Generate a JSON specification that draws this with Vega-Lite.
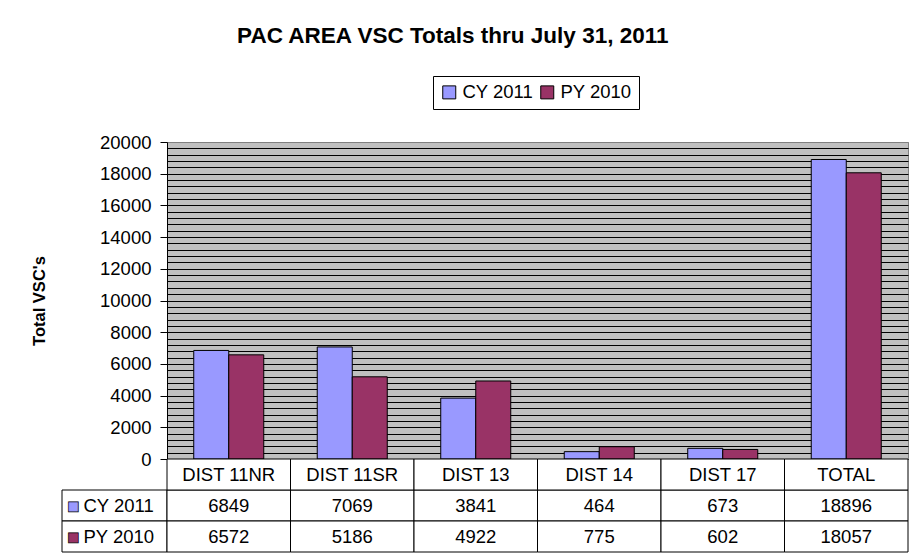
{
  "$schema": "https://vega.github.io/schema/vega-lite/v6.json",
  "padding": {"left": 31, "top": 24, "right": 0, "bottom": 0},
  "background": "white",
  "title": {"text": "PAC AREA VSC Totals thru July 31, 2011", "fontSize": 22.5, "fontWeight": "bold", "font": "Liberation Sans", "anchor": "middle", "color": "black", "offset": 28, "dx": -17},
  "config": {"view": {"stroke": null}, "font": "Liberation Sans"},
  "datasets": {
    "vsc": [
      {"cat": "DIST 11NR", "series": "CY 2011", "value": 6849},
      {"cat": "DIST 11NR", "series": "PY 2010", "value": 6572},
      {"cat": "DIST 11SR", "series": "CY 2011", "value": 7069},
      {"cat": "DIST 11SR", "series": "PY 2010", "value": 5186},
      {"cat": "DIST 13", "series": "CY 2011", "value": 3841},
      {"cat": "DIST 13", "series": "PY 2010", "value": 4922},
      {"cat": "DIST 14", "series": "CY 2011", "value": 464},
      {"cat": "DIST 14", "series": "PY 2010", "value": 775},
      {"cat": "DIST 17", "series": "CY 2011", "value": 673},
      {"cat": "DIST 17", "series": "PY 2010", "value": 602},
      {"cat": "TOTAL", "series": "CY 2011", "value": 18896},
      {"cat": "TOTAL", "series": "PY 2010", "value": 18057}
    ]
  },
  "columns": 2,
  "spacing": 0,
  "bounds": "flush",
  "align": "each",
  "resolve": {"legend": {"color": "independent"}},
  "concat": [
    {
      "width": 105, "height": 317,
      "data": {"values": [{}]},
      "mark": {"type": "text", "text": ""},
      "encoding": {}
    },
    {
      "width": 741, "height": 317,
      "data": {"name": "vsc"},
      "view": {"fill": "#C0C0C0", "stroke": "#808080"},
      "mark": {"type": "bar", "stroke": "black", "strokeWidth": 1},
      "encoding": {
        "x": {"field": "cat", "type": "nominal", "sort": null, "scale": {"paddingInner": 0.433, "paddingOuter": 0.2165}, "axis": null},
        "xOffset": {"field": "series", "type": "nominal", "sort": null},
        "y": {
          "field": "value", "type": "quantitative",
          "scale": {"domain": [0, 20000], "nice": false},
          "axis": {
            "values": [0,400,800,1200,1600,2000,2400,2800,3200,3600,4000,4400,4800,5200,5600,6000,6400,6800,7200,7600,8000,8400,8800,9200,9600,10000,10400,10800,11200,11600,12000,12400,12800,13200,13600,14000,14400,14800,15200,15600,16000,16400,16800,17200,17600,18000,18400,18800,19200,19600,20000],
            "format": "d",
            "labelExpr": "datum.value % 2000 === 0 ? datum.label : ''",
            "grid": true,
            "gridColor": {"condition": {"test": "datum.value === 20000", "value": "#808080"}, "value": "black"},
            "gridOpacity": 1,
            "gridWidth": 1,
            "tickOpacity": {"condition": {"test": "datum.value % 2000 === 0", "value": 1}, "value": 0},
            "tickSize": 7,
            "tickColor": "black",
            "domainColor": "black",
            "labelPadding": 9,
            "labelFontSize": 18.5,
            "labelFont": "Liberation Sans",
            "labelColor": "black",
            "labelOverlap": false,
            "labelFlush": false,
            "title": "Total VSC's",
            "titleFontSize": 16.5,
            "titleFontWeight": "bold",
            "titleFont": "Liberation Sans",
            "titleColor": "black",
            "titlePadding": 52
          }
        },
        "color": {
          "field": "series", "type": "nominal",
          "scale": {"domain": ["CY 2011", "PY 2010"], "range": ["#9999FF", "#993366"]},
          "legend": {
            "orient": "none", "legendX": 266, "legendY": -66, "direction": "horizontal", "title": null,
            "strokeColor": "black", "fillColor": "white", "padding": 7,
            "symbolType": "square", "symbolSize": 169, "symbolStrokeColor": "black", "symbolStrokeWidth": 1, "symbolOpacity": 1,
            "labelFontSize": 18.5, "labelFont": "Liberation Sans", "labelColor": "black", "labelOffset": 4, "columnPadding": 4
          }
        }
      }
    },
    {
      "width": 105, "height": 93,
      "data": {"name": "vsc"},
      "transform": [{"filter": "datum.cat === 'TOTAL'"}],
      "encoding": {
        "y": {"field": "series", "type": "nominal", "scale": {"domain": ["hdr", "CY 2011", "PY 2010"], "paddingInner": 0, "paddingOuter": 0}, "axis": null}
      },
      "layer": [
        {"mark": {"type": "rect", "fill": "white", "stroke": "black", "strokeWidth": 1}},
        {
          "mark": {"type": "text", "text": "■", "align": "center", "baseline": "middle", "dx": -41, "fontSize": 13, "font": "DejaVu Sans", "stroke": "black", "strokeWidth": 0.7},
          "encoding": {"color": {"field": "series", "type": "nominal", "legend": null}}
        },
        {
          "mark": {"type": "text", "align": "left", "baseline": "middle", "dx": -31, "fontSize": 18.5, "color": "black"},
          "encoding": {"text": {"field": "series", "type": "nominal"}}
        }
      ]
    },
    {
      "width": 741, "height": 93,
      "data": {"name": "vsc"},
      "encoding": {
        "x": {"field": "cat", "type": "nominal", "sort": null, "scale": {"paddingInner": 0, "paddingOuter": 0}, "axis": null}
      },
      "layer": [
        {
          "mark": {"type": "rect", "fill": "white", "stroke": "black", "strokeWidth": 1},
          "encoding": {"y": {"field": "series", "type": "nominal", "scale": {"domain": ["hdr", "CY 2011", "PY 2010"], "paddingInner": 0, "paddingOuter": 0}, "axis": null}}
        },
        {
          "mark": {"type": "text", "fontSize": 18.5, "color": "black", "baseline": "middle"},
          "encoding": {
            "y": {"field": "series", "type": "nominal"},
            "text": {"field": "value", "type": "quantitative", "format": "d"}
          }
        },
        {
          "transform": [{"filter": "datum.series === 'CY 2011'"}],
          "mark": {"type": "rect", "fill": "white", "stroke": "black", "strokeWidth": 1},
          "encoding": {"y": {"datum": "hdr", "type": "nominal"}}
        },
        {
          "transform": [{"filter": "datum.series === 'CY 2011'"}],
          "mark": {"type": "text", "fontSize": 18.5, "color": "black", "baseline": "middle"},
          "encoding": {
            "y": {"datum": "hdr", "type": "nominal"},
            "text": {"field": "cat", "type": "nominal"}
          }
        }
      ]
    }
  ]
}
